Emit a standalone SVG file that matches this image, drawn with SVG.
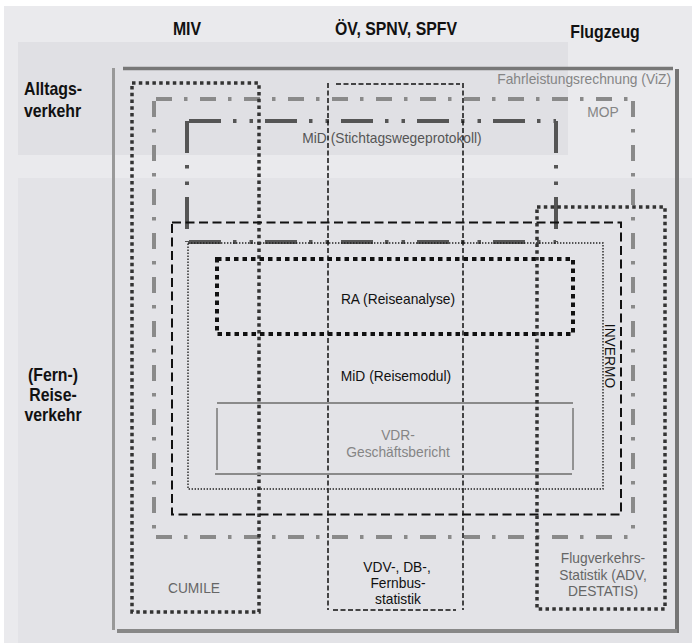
<svg xmlns="http://www.w3.org/2000/svg" width="692" height="643" viewBox="0 0 692 643">
<style>
  text { font-family: "Liberation Sans", Arial, sans-serif; font-size: 15px; }
  .title { font-size: 18px; font-weight: bold; fill: #111; }
  .mid { text-anchor: middle; }
  .dark { fill: #111; }
  .gray { fill: #858585; }
  .gray2 { fill: #666; }
  .gray3 { fill: #555; }
  .frame { stroke-linecap: butt; fill: none; }
  .mop { stroke: #8a8a8a; stroke-width: 4; stroke-dasharray: 16 12 3.5 12.5; fill: none; }
  .mids { stroke: #555; stroke-width: 4; stroke-dasharray: 32 12 3.5 13 3.5 12; fill: none; }
  .thickdot { stroke: #333; stroke-width: 3.5; stroke-dasharray: 3.5 3.3; fill: none; }
  .radot { stroke: #111; stroke-width: 4; stroke-dasharray: 4.5 4; fill: none; }
  .finedot { stroke: #222; stroke-width: 1.4; stroke-dasharray: 1.4 1.6; fill: none; }
  .oev { stroke: #111; stroke-width: 1.5; stroke-dasharray: 5 2.5; fill: none; }
  .inv { stroke: #111; stroke-width: 2; stroke-dasharray: 9 4.5; fill: none; }
  .vdr { stroke: #8a8a8a; stroke-width: 1.8; fill: none; }
</style>
<rect x="0" y="0" width="692" height="643" fill="#ffffff"/>
<g id="background">
  <rect x="4" y="6" width="688" height="637" fill="#eaeaed"/>
  <rect x="18" y="42" width="550" height="113" fill="#e0e0e4"/>
  <rect x="18" y="178" width="674" height="465" fill="#e3e3e7"/>
</g>
<g id="headers">
  <text class="title mid" transform="translate(187 35) scale(0.88 1)">MIV</text>
  <text class="title mid" transform="translate(396 35) scale(0.88 1)">ÖV, SPNV, SPFV</text>
  <text class="title mid" transform="translate(605 38) scale(0.88 1)">Flugzeug</text>
  <text class="title" transform="translate(24 95) scale(0.88 1)">Alltags-</text>
  <text class="title" transform="translate(24 117) scale(0.88 1)">verkehr</text>
  <text class="title mid" transform="translate(53 381) scale(0.88 1)">(Fern-)</text>
  <text class="title mid" transform="translate(53 401) scale(0.88 1)">Reise-</text>
  <text class="title mid" transform="translate(53 421) scale(0.88 1)">verkehr</text>
</g>
<g id="fahrleistungsrechnung">
  <line class="frame" x1="123" y1="68.5" x2="673" y2="68.5" stroke="#777" stroke-width="3.5"/>
  <line class="frame" x1="113.5" y1="68" x2="113.5" y2="630" stroke="#999" stroke-width="3"/>
  <line class="frame" x1="677" y1="69" x2="677" y2="633" stroke="#757575" stroke-width="4"/>
  <line class="frame" x1="117" y1="631" x2="677" y2="631" stroke="#888" stroke-width="4"/>
  <text class="gray" text-anchor="end" transform="translate(671 84) scale(0.92 1)">Fahrleistungsrechnung (ViZ)</text>
</g>
<g id="mop">
  <line class="mop" x1="156" y1="99" x2="633" y2="99"/>
  <line class="mop" x1="156" y1="537" x2="633" y2="537"/>
  <line class="mop" x1="154" y1="101" x2="154" y2="537"/>
  <line class="mop" x1="633" y1="101" x2="633" y2="537"/>
  <text class="gray mid" transform="translate(603 117) scale(0.92 1)">MOP</text>
</g>
<g id="mid-stichtag">
  <line class="mids" x1="189" y1="121" x2="556" y2="121"/>
  <line class="mids" x1="189" y1="242" x2="556" y2="242"/>
  <line class="mids" x1="187" y1="121" x2="187" y2="242"/>
  <line class="mids" x1="556" y1="121" x2="556" y2="242"/>
  <text class="gray3 mid" transform="translate(392 143) scale(0.92 1)">MiD (Stichtagswegeprotokoll)</text>
</g>
<g id="cumile">
  <rect class="thickdot" x="132" y="83" width="127" height="529"/>
  <text class="gray2 mid" transform="translate(194 593) scale(0.92 1)">CUMILE</text>
</g>
<g id="oev-statistik">
  <line class="oev" x1="328" y1="83" x2="328" y2="610"/>
  <line class="oev" x1="463" y1="83" x2="463" y2="610"/>
  <line class="oev" x1="336" y1="84" x2="460" y2="84"/>
  <line class="oev" x1="333" y1="610" x2="456" y2="610"/>
  <text class="dark mid" transform="translate(397 572) scale(0.92 1)">VDV-, DB-,</text>
  <text class="dark mid" transform="translate(398 588) scale(0.92 1)">Fernbus-</text>
  <text class="dark mid" transform="translate(398 604) scale(0.92 1)">statistik</text>
</g>
<g id="invermo">
  <rect class="inv" x="172" y="222.5" width="449" height="292"/>
  <text class="dark mid" transform="translate(605 356) rotate(90) scale(0.92 1)">INVERMO</text>
</g>
<g id="mid-reisemodul">
  <rect class="finedot" x="188" y="243" width="415" height="246"/>
  <text class="dark mid" transform="translate(396 381) scale(0.92 1)">MiD (Reisemodul)</text>
</g>
<g id="ra">
  <rect class="radot" x="217" y="259" width="356" height="75"/>
  <text class="dark mid" transform="translate(398 304) scale(0.92 1)">RA (Reiseanalyse)</text>
</g>
<g id="vdr">
  <line class="vdr" x1="217" y1="403" x2="573" y2="403"/>
  <line class="vdr" x1="215" y1="474" x2="572" y2="474"/>
  <line class="vdr" x1="217" y1="408" x2="217" y2="470"/>
  <line class="vdr" x1="573" y1="408" x2="573" y2="470"/>
  <text class="gray mid" transform="translate(398 440) scale(0.92 1)">VDR-</text>
  <text class="gray mid" transform="translate(398 457) scale(0.92 1)">Geschäftsbericht</text>
</g>
<g id="flugverkehrsstatistik">
  <rect class="thickdot" x="537" y="207" width="128" height="402"/>
  <text class="gray2 mid" transform="translate(603 563) scale(0.92 1)">Flugverkehrs-</text>
  <text class="gray2 mid" transform="translate(603 580) scale(0.92 1)">Statistik (ADV,</text>
  <text class="gray2 mid" transform="translate(603 596) scale(0.92 1)">DESTATIS)</text>
</g>
<g id="connectors"/>
</svg>
